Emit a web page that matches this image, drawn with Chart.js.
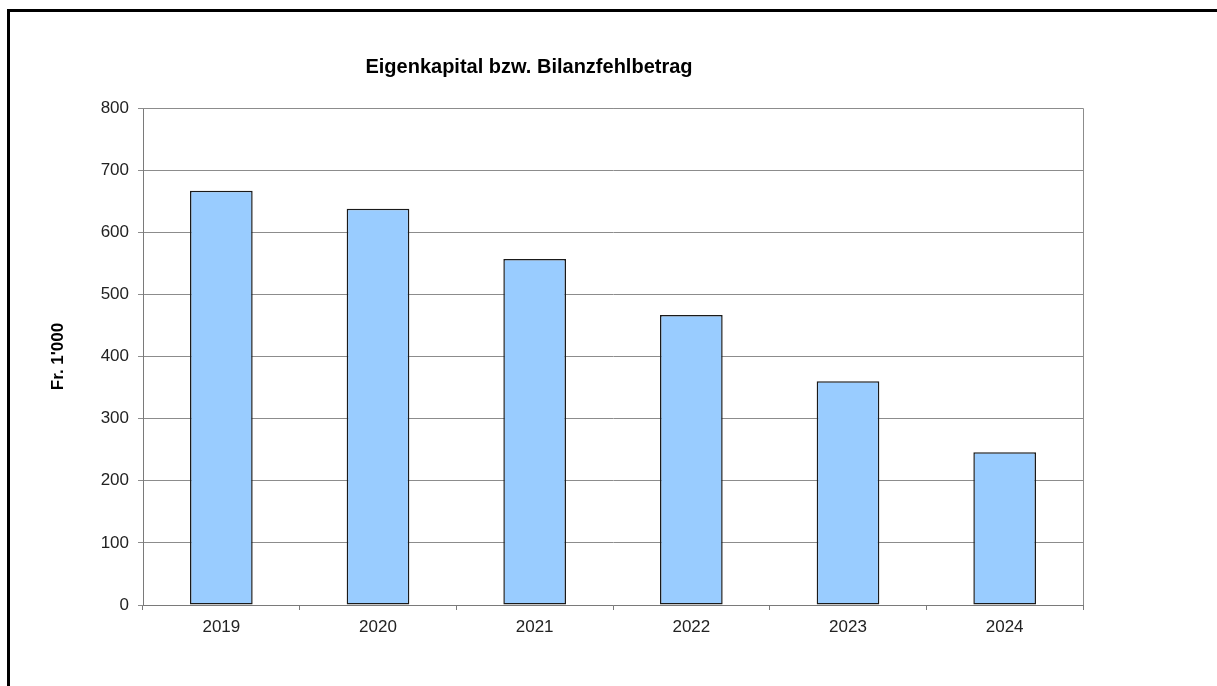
<!DOCTYPE html>
<html>
<head>
<meta charset="utf-8">
<script src="https://cdn.jsdelivr.net/npm/chart.js@4"></script>
<style>
  html, body { margin: 0; padding: 0; background: #fff; }
  #wrap { position: relative; width: 1217px; height: 686px; }
  #rahmen {
    position: absolute; left: 7px; top: 9px; right: 0; bottom: 0;
    border-left: 3px solid #000; border-top: 3px solid #000;
    pointer-events: none;
  }
</style>
</head>
<body>
<div id="wrap">
  <canvas id="chartEK" width="1217" height="686"></canvas>
  <div id="rahmen"></div>
</div>
<script>
/* DATEN */
const jahre = ['2019', '2020', '2021', '2022', '2023', '2024'];
const eigenkapital = [667, 638, 557, 467, 360, 246];
const titel = 'Eigenkapital bzw. Bilanzfehlbetrag';
const achsenTitel = "Fr. 1'000";

// Titel und Rahmen der Zeichenfläche
const rahmenPlugin = {
  id: 'rahmenPlugin',
  afterDraw(chart) {
    const { ctx, chartArea: a } = chart;
    ctx.save();
    ctx.strokeStyle = '#8c8c8c';
    ctx.lineWidth = 1;
    ctx.beginPath();
    ctx.moveTo(a.left, a.top + 0.5);
    ctx.lineTo(a.right + 0.5, a.top + 0.5);
    ctx.lineTo(a.right + 0.5, a.bottom);
    ctx.stroke();
    ctx.fillStyle = '#000';
    ctx.font = 'bold 20px "Liberation Sans", Arial, sans-serif';
    ctx.textAlign = 'center';
    ctx.textBaseline = 'middle';
    ctx.fillText(titel, 529, 67);
    ctx.restore();
  }
};

function renderChart() {
  const ctx = document.getElementById('chartEK').getContext('2d');
  const schrift = { family: '"Liberation Sans", Arial, sans-serif', size: 17 };

  window.chartEK = new Chart(ctx, {
    type: 'bar',
    data: {
      labels: jahre,
      datasets: [{
        data: eigenkapital,
        backgroundColor: '#99ccff',
        borderColor: '#1a1a1a',
        borderWidth: 1.5,
        borderSkipped: false,
        categoryPercentage: 0.4,
        barPercentage: 1,
      }],
    },
    options: {
      responsive: false,
      animation: false,
      layout: { padding: { top: 108, right: 134, bottom: 41, left: 0 } },
      plugins: {
        legend: { display: false },
        tooltip: { enabled: false },
      },
      scales: {
        y: {
          min: 0,
          max: 800,
          afterFit(s) { s.width = 143; },
          ticks: { stepSize: 100, color: '#222', font: schrift, padding: 9 },
          grid: { color: '#8c8c8c', tickLength: 5, lineWidth: 1 },
          border: { color: '#7a7a7a' },
          title: {
            display: true,
            text: achsenTitel,
            color: '#000',
            font: { family: schrift.family, size: 17, weight: 'bold' },
            padding: { top: 48, bottom: 0 },
          },
        },
        x: {
          afterFit(s) { s.height = 40; },
          ticks: { color: '#222', font: schrift, padding: 7 },
          grid: { offset: true, drawOnChartArea: false, tickLength: 5, color: '#7a7a7a' },
          border: { color: '#7a7a7a' },
        },
      },
    },
    plugins: [rahmenPlugin],
  });
}

renderChart();
</script>
</body>
</html>
